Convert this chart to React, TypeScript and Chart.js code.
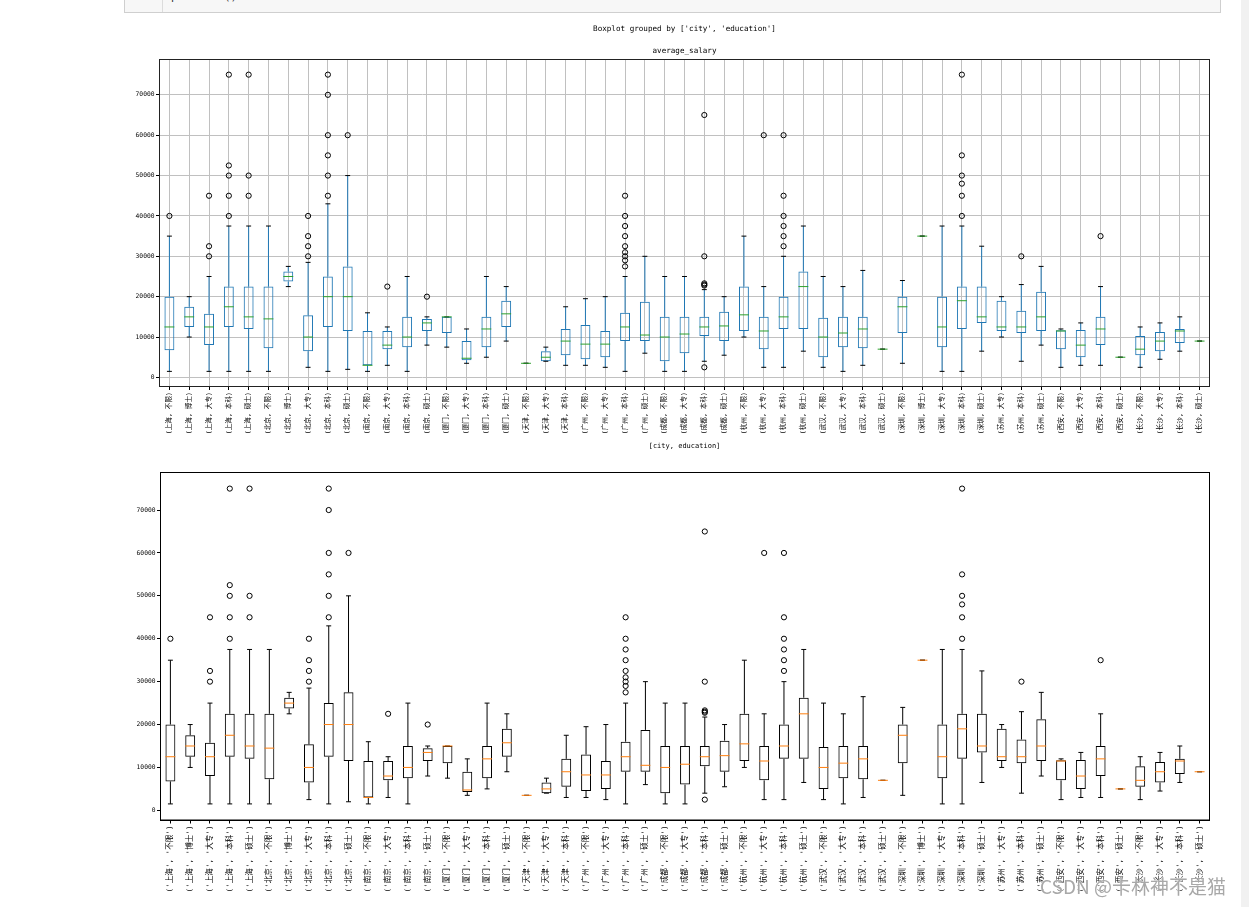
import React, { useEffect, useRef } from 'react';
import { Chart, registerables } from 'chart.js';

Chart.register(...registerables);

// ---------- data ----------
const cities = [
  '上海', '上海', '上海', '上海', '上海',
  '北京', '北京', '北京', '北京', '北京',
  '南京', '南京', '南京', '南京',
  '厦门', '厦门', '厦门', '厦门',
  '天津', '天津', '天津',
  '广州', '广州', '广州', '广州',
  '成都', '成都', '成都', '成都',
  '杭州', '杭州', '杭州', '杭州',
  '武汉', '武汉', '武汉', '武汉',
  '深圳', '深圳', '深圳', '深圳', '深圳',
  '苏州', '苏州', '苏州',
  '西安', '西安', '西安', '西安',
  '长沙', '长沙', '长沙', '长沙',
];
const educations = [
  '不限', '博士', '大专', '本科', '硕士',
  '不限', '博士', '大专', '本科', '硕士',
  '不限', '大专', '本科', '硕士',
  '不限', '大专', '本科', '硕士',
  '不限', '大专', '本科',
  '不限', '大专', '本科', '硕士',
  '不限', '大专', '本科', '硕士',
  '不限', '大专', '本科', '硕士',
  '不限', '大专', '本科', '硕士',
  '不限', '博士', '大专', '本科', '硕士',
  '大专', '本科', '硕士',
  '不限', '大专', '本科', '硕士',
  '不限', '大专', '本科', '硕士',
];
const whiskerLow = [
  1500, 10000, 1500, 1500, 1500,
  1500, 22500, 2500, 1500, 2000,
  1500, 3000, 1500, 8000,
  7500, 3500, 5000, 9000,
  3500, 4000, 3000,
  3000, 2500, 1500, 6000,
  1500, 1500, 4000, 5500,
  10000, 2500, 2500, 6500,
  2500, 1500, 3000, 7000,
  3500, 35000, 1500, 1500, 6500,
  10000, 4000, 8000,
  2500, 3000, 3000, 5000,
  2500, 4500, 6500, 9000,
];
const q1 = [
  6750, 12500, 8000, 12500, 12000,
  7250, 23750, 6500, 12500, 11500,
  3000, 7000, 7500, 11500,
  11000, 4250, 7500, 12500,
  3500, 4000, 5500,
  4500, 5000, 9000, 9000,
  4000, 6000, 10250, 9000,
  11500, 7000, 12000, 12000,
  5000, 7500, 7250, 7000,
  11000, 35000, 7500, 12000, 13500,
  11500, 11000, 11500,
  7000, 5000, 8000, 5000,
  5500, 6500, 8500, 9000,
];
const medians = [
  12500, 15000, 12500, 17500, 15000,
  14500, 25000, 10000, 20000, 20000,
  3000, 8000, 10000, 13500,
  15000, 4750, 12000, 15750,
  3500, 5000, 9000,
  8250, 8250, 12500, 10500,
  10000, 10750, 12500, 12750,
  15500, 11500, 15000, 22500,
  10000, 11000, 12000, 7000,
  17500, 35000, 12500, 19000, 15000,
  12500, 12500, 15000,
  11500, 8000, 12000, 5000,
  7000, 9000, 11500, 9000,
];
const q3 = [
  20000, 17500, 15750, 22500, 22500,
  22500, 26250, 15400, 25000, 27500,
  11500, 11500, 15000, 14500,
  15000, 9000, 15000, 19000,
  3500, 6500, 12000,
  13000, 11500, 16000, 18750,
  15000, 15000, 15000, 16250,
  22500, 15000, 20000, 26250,
  14750, 15000, 15000, 7000,
  20000, 35000, 20000, 22500, 22500,
  19000, 16500, 21250,
  11700, 11750, 15000, 5000,
  10250, 11250, 12000, 9000,
];
const whiskerHigh = [
  35000, 20000, 25000, 37500, 37500,
  37500, 27500, 28500, 43000, 50000,
  16000, 12500, 25000, 15000,
  15000, 12000, 25000, 22500,
  3500, 7500, 17500,
  19500, 20000, 25000, 30000,
  25000, 25000, 21750, 20000,
  35000, 22500, 30000, 37500,
  25000, 22500, 26500, 7000,
  24000, 35000, 37500, 37500, 32500,
  20000, 23000, 27500,
  12000, 13500, 22500, 5000,
  12500, 13500, 15000, 9000,
];
const outliers: number[][] = [
  [40000], [], [30000, 32500, 45000], [40000, 45000, 50000, 52500, 75000], [45000, 50000, 75000],
  [], [], [30000, 32500, 35000, 40000], [45000, 50000, 55000, 60000, 70000, 75000], [60000],
  [], [22500], [], [20000],
  [], [], [], [],
  [], [], [],
  [], [], [27500, 29000, 30000, 31000, 32500, 35000, 37500, 40000, 45000], [],
  [], [], [2500, 22750, 23000, 23300, 30000, 65000], [],
  [], [60000], [32500, 35000, 37500, 40000, 45000, 60000], [],
  [], [], [], [],
  [], [], [], [40000, 45000, 48000, 50000, 55000, 75000], [],
  [], [30000], [],
  [], [], [35000], [],
  [], [], [], [],
];
const yTicks = [0, 10000, 20000, 30000, 40000, 50000, 60000, 70000];
const yMin = -2250;
const yMax = 78750;

const topLabels = cities.map((c, i) => `(${c}, ${educations[i]})`);
const bottomLabels = cities.map((c, i) => `('${c}', '${educations[i]}')`);

const FONT = "'DejaVu Sans Mono', 'Noto Sans CJK SC', monospace";

// ---------- plugin: whiskers, caps, medians, frame, titles ----------
const boxExtras = {
  id: 'boxExtras',
  afterDatasetsDraw(chart: any) {
    const o = chart.options.plugins.boxExtras;
    const xs = chart.scales.x;
    const ys = chart.scales.y;
    const ctx = chart.ctx as CanvasRenderingContext2D;
    const step = xs.getPixelForValue(1) - xs.getPixelForValue(0);
    const capHalf = step * 0.125;
    const boxHalf = step * 0.25;
    const line = (x1: number, y1: number, x2: number, y2: number) => {
      ctx.beginPath();
      ctx.moveTo(x1, y1);
      ctx.lineTo(x2, y2);
      ctx.stroke();
    };
    ctx.save();
    ctx.lineWidth = 1;
    for (let i = 0; i < cities.length; i++) {
      const cx = xs.getPixelForValue(i);
      const yLo = ys.getPixelForValue(whiskerLow[i]);
      const yQ1 = ys.getPixelForValue(q1[i]);
      const yMed = ys.getPixelForValue(medians[i]);
      const yQ3 = ys.getPixelForValue(q3[i]);
      const yHi = ys.getPixelForValue(whiskerHigh[i]);
      ctx.strokeStyle = o.whisker;
      line(cx, yQ1, cx, yLo);
      line(cx, yQ3, cx, yHi);
      ctx.strokeStyle = o.cap;
      line(cx - capHalf, yLo, cx + capHalf, yLo);
      line(cx - capHalf, yHi, cx + capHalf, yHi);
      ctx.strokeStyle = o.median;
      line(cx - boxHalf, yMed, cx + boxHalf, yMed);
    }
    ctx.restore();
  },
  afterDraw(chart: any) {
    const o = chart.options.plugins.boxExtras;
    const ctx = chart.ctx as CanvasRenderingContext2D;
    const a = chart.chartArea;
    ctx.save();
    ctx.strokeStyle = o.frame;
    ctx.lineWidth = 1;
    ctx.strokeRect(a.left, a.top, a.right - a.left, a.bottom - a.top);
    ctx.fillStyle = '#000';
    ctx.textAlign = 'center';
    ctx.textBaseline = 'middle';
    const cx = (a.left + a.right) / 2;
    (o.texts || []).forEach((t: any) => {
      ctx.font = `${t.size}px ${FONT}`;
      ctx.fillText(t.text, cx, t.y);
    });
    ctx.restore();
  },
};

type Variant = {
  labels: string[];
  boxColor: string;
  whisker: string;
  cap: string;
  median: string;
  frame: string;
  grid: boolean;
  padding: { left: number; right: number; top: number; bottom: number };
  xHeight: number;
  xFont: number;
  texts: { text: string; y: number; size: number }[];
};

function buildConfig(v: Variant): any {
  const flierPoints: { x: string; y: number }[] = [];
  outliers.forEach((arr, i) => arr.forEach((y) => flierPoints.push({ x: v.labels[i], y })));
  return {
    type: 'bar',
    data: {
      labels: v.labels,
      datasets: [
        {
          type: 'bar',
          label: 'box',
          data: q1.map((lo, i) => [lo, q3[i]]),
          backgroundColor: 'rgba(0,0,0,0)',
          borderColor: v.boxColor,
          borderWidth: 1,
          borderSkipped: false,
          barPercentage: 0.5,
          categoryPercentage: 1,
          order: 2,
        },
        {
          type: 'line',
          label: 'fliers',
          data: flierPoints,
          showLine: false,
          pointRadius: 2.6,
          pointBorderWidth: 1,
          pointBorderColor: '#000',
          pointBackgroundColor: 'rgba(0,0,0,0)',
          order: 1,
        },
      ],
    },
    options: {
      responsive: false,
      animation: false,
      events: [],
      devicePixelRatio: 1,
      layout: { padding: v.padding },
      plugins: {
        legend: { display: false },
        tooltip: { enabled: false },
        title: { display: false },
        boxExtras: {
          whisker: v.whisker,
          cap: v.cap,
          median: v.median,
          frame: v.frame,
          texts: v.texts,
        },
      },
      scales: {
        x: {
          type: 'category',
          offset: true,
          grid: {
            display: true,
            offset: false,
            drawOnChartArea: v.grid,
            color: '#c0c0c0',
            lineWidth: 1,
            tickColor: '#000',
            tickLength: 3.5,
          },
          border: { display: true, color: v.frame },
          ticks: {
            autoSkip: false,
            minRotation: 90,
            maxRotation: 90,
            padding: 2,
            color: '#000',
            font: { family: FONT, size: v.xFont },
          },
          afterFit: (scale: any) => {
            scale.height = v.xHeight;
          },
        },
        y: {
          type: 'linear',
          min: yMin,
          max: yMax,
          grid: {
            display: true,
            drawOnChartArea: v.grid,
            color: '#c0c0c0',
            lineWidth: 1,
            tickColor: '#000',
            tickLength: 3.5,
          },
          border: { display: true, color: v.frame },
          ticks: {
            padding: 1.5,
            color: '#000',
            font: { family: FONT, size: 6.3 },
            callback: (val: any) => String(val),
          },
          afterBuildTicks: (scale: any) => {
            scale.ticks = yTicks.map((t) => ({ value: t }));
          },
          afterFit: (scale: any) => {
            scale.width = 40;
          },
        },
      },
    },
    plugins: [boxExtras],
  };
}

const topVariant: Variant = {
  labels: topLabels,
  boxColor: '#1f77b4',
  whisker: '#1f77b4',
  cap: '#000',
  median: '#2ca02c',
  frame: '#222',
  grid: true,
  padding: { left: 119.5, right: 39.5, top: 59.5, bottom: 13 },
  xHeight: 70.5,
  xFont: 6.6,
  texts: [
    { text: "Boxplot grouped by ['city', 'education']", y: 29, size: 7.6 },
    { text: 'average_salary', y: 51, size: 7.6 },
    { text: '[city, education]', y: 446.5, size: 7 },
  ],
};

const bottomVariant: Variant = {
  labels: bottomLabels,
  boxColor: '#000',
  whisker: '#000',
  cap: '#000',
  median: '#ff7f0e',
  frame: '#000',
  grid: false,
  padding: { left: 120.5, right: 39.5, top: 12.5, bottom: 7 },
  xHeight: 80,
  xFont: 7.6,
  texts: [],
};

function BoxChart({ variant, width, height, top }: { variant: Variant; width: number; height: number; top: number }) {
  const ref = useRef<HTMLCanvasElement | null>(null);
  useEffect(() => {
    if (!ref.current) return;
    const chart = new Chart(ref.current, buildConfig(variant));
    return () => chart.destroy();
  }, [variant]);
  return (
    <canvas
      ref={ref}
      width={width}
      height={height}
      style={{ position: 'absolute', left: 0, top, width, height, display: 'block' }}
    />
  );
}

export default function App() {
  return (
    <div style={{ position: 'absolute', left: 0, top: 0, width: 1249, height: 907, background: '#fff', overflow: 'hidden' }}>
      {/* notebook input cell remnant */}
      <div
        style={{
          position: 'absolute',
          left: 124,
          top: -12,
          width: 1097,
          height: 25,
          border: '1px solid #cfcfcf',
          background: '#f7f7f7',
          boxSizing: 'border-box',
          overflow: 'hidden',
        }}
      >
        <div style={{ position: 'absolute', left: 37, top: 0, bottom: 0, width: 1, background: '#dcdcdc' }} />
        <div style={{ position: 'absolute', left: 8, top: 1, fontFamily: "'DejaVu Sans Mono', monospace", fontSize: 11, color: '#999' }}>21</div>
        <div style={{ position: 'absolute', left: 46, top: 1, fontFamily: "'DejaVu Sans Mono', monospace", fontSize: 11, color: '#333' }}>plt.show()</div>
      </div>
      <BoxChart variant={topVariant} width={1249} height={470} top={0} />
      <BoxChart variant={bottomVariant} width={1249} height={447} top={460} />
      {/* scrollbar */}
      <div style={{ position: 'absolute', left: 1241, top: 0, width: 8, height: 907, background: '#f1f1f1' }} />
      {/* watermark */}
      <div
        style={{
          position: 'absolute',
          left: 1040,
          top: 872,
          fontFamily: "'Noto Sans CJK SC', sans-serif",
          fontSize: 19,
          color: '#a8a8a8',
          whiteSpace: 'nowrap',
          textShadow: '0 0 2px #fff, 0 0 2px #fff',
        }}
      >
        CSDN @卡林神不是猫
      </div>
    </div>
  );
}
